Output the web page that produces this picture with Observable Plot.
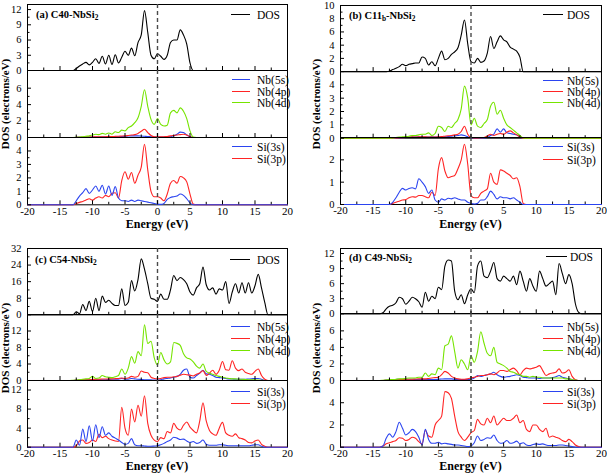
<!DOCTYPE html>
<html><head><meta charset="utf-8">
<script src="https://cdn.jsdelivr.net/npm/d3@7"></script>
<script src="https://cdn.jsdelivr.net/npm/@observablehq/plot@0.6"></script>
<style>
body{margin:0;background:#fff;}
#root{position:relative;width:607px;height:473px;overflow:hidden;background:#fff;font-family:"Liberation Serif","Times New Roman",serif;color:#000;}
.t{position:absolute;white-space:nowrap;line-height:14px;}
.ln{position:absolute;height:0;}
sub{font-size:70%;vertical-align:-2px;line-height:0;}
</style></head><body><div id="root"></div>
<script>
// ---------- energy grids (eV) ----------
const gridAB = [-20,
 -14,-13.5,-13,-12.5,-12,-11.5,-11,-10.5,-10,-9.5,
 -9,-8.5,-8,-7.5,-7,-6.5,-6,-5.5,-5,-4.5,
 -4,-3.5,-3,-2.5,-2,-1.5,-1,-0.5,0,0.5,
 1,1.5,2,2.5,3,3.5,4,4.5,5,5.5,
 6,6.5,7,7.5,8,8.5,9,
 20];
const gridCD = [-20,
 -14,-13.5,-13,-12.5,-12,-11.5,-11,-10.5,-10,-9.5,
 -9,-8.5,-8,-7.5,-7,-6.5,-6,-5.5,-5,-4.5,
 -4,-3.5,-3,-2.5,-2,-1.5,-1,-0.5,0,0.5,
 1,1.5,2,2.5,3,3.5,4,4.5,5,5.5,
 6,6.5,7,7.5,8,8.5,9,9.5,10,10.5,
 11,11.5,12,12.5,13,13.5,14,14.5,15,15.5,
 16,16.5,17,17.5,18,
 20];

// ---------- (a) C40-NbSi2 ----------
const aDOS = [0,
 0,0,0,0.4,0.9,1.3,1.6,1.1,1.6,2.3,
 1.4,2.8,1.3,3.0,1.2,3.1,1.5,2.6,3.8,3.0,
 4.4,2.9,5.5,7.0,11.8,7.5,3.0,2.3,3.3,2.8,
 2.2,3.0,5.5,6.0,6.0,8.0,7.0,5.2,1.5,0,
 0,0,0,0,0,0,0,
 0];
const aNb5s = [0,
 0,0,0,0.01,0.02,0.03,0.04,0.05,0.05,0.06,
 0.07,0.08,0.08,0.09,0.1,0.1,0.1,0.12,0.15,0.18,
 0.2,0.2,0.2,0.18,0.15,0.12,0.1,0.06,0.05,0.05,
 0.05,0.08,0.1,0.2,0.4,0.65,0.6,0.3,0.1,0,
 0,0,0,0,0,0,0,
 0];
const aNb4p = [0,
 0,0,0,0.01,0.02,0.03,0.05,0.06,0.08,0.09,
 0.1,0.1,0.1,0.12,0.12,0.14,0.15,0.18,0.2,0.25,
 0.3,0.35,0.5,0.75,1.0,0.6,0.25,0.1,0.1,0.08,
 0.1,0.12,0.2,0.25,0.3,0.35,0.4,0.3,0.1,0,
 0,0,0,0,0,0,0,
 0];
const aNb4d = [0,
 0,0,0,0.02,0.05,0.1,0.15,0.2,0.3,0.4,
 0.35,0.5,0.4,0.55,0.4,0.7,0.6,0.9,0.8,1.2,
 1.4,1.8,2.4,3.8,5.8,3.8,2.2,1.6,2.3,1.6,
 1.4,1.5,3.0,3.3,3.0,3.6,3.2,2.3,0.8,0.05,
 0,0,0,0,0,0,0,
 0];
const aSi3s = [0,
 0,0,0,0.3,0.65,0.9,1.2,0.85,1.1,1.4,
 1.0,1.45,0.8,1.4,0.7,1.35,0.5,0.3,0.3,0.25,
 0.35,0.25,0.35,0.3,0.25,0.2,0.15,0.1,0.05,0.03,
 0.1,0.4,0.55,0.6,0.65,0.8,0.7,0.45,0.15,0,
 0,0,0,0,0,0,0,
 0];
const aSi3p = [0,
 0,0,0,0.08,0.18,0.25,0.35,0.45,0.35,0.5,
 0.6,0.5,0.7,0.6,0.85,0.9,0.5,1.8,2.45,1.9,
 2.4,1.6,2.2,2.8,4.5,2.6,1.0,0.6,0.6,0.5,
 0.3,0.8,1.6,1.8,1.6,2.1,2.0,1.7,0.8,0.05,
 0,0,0,0,0,0,0,
 0];

// ---------- (b) C11b-NbSi2 ----------
const bDOS = [0,
 0,0,0,0.05,0.3,0.5,0.75,1.1,0.9,1.1,
 1.2,1.3,1.3,2.2,2.0,1.0,1.5,0.9,2.0,3.1,
 1.8,2.0,2.6,3.0,3.6,5.5,7.8,4.2,1.5,1.3,
 2.0,1.4,1.6,2.8,5.3,3.5,4.5,5.4,4.8,4.5,
 3.7,3.4,3.1,2.2,0,0,0,
 0];
const bNb5s = [0,
 0,0,0,0,0.01,0.02,0.03,0.04,0.05,0.06,
 0.08,0.09,0.1,0.09,0.08,0.09,0.1,0.09,0.08,0.09,
 0.1,0.12,0.15,0.18,0.2,0.25,0.2,0.1,0.02,0.01,
 0.01,0.01,0.02,0.05,0.2,0.3,0.7,0.45,0.7,0.4,
 0.35,0.3,0.25,0.1,0,0,0,
 0];
const bNb4p = [0,
 0,0,0,0,0.01,0.02,0.03,0.04,0.05,0.07,
 0.1,0.08,0.1,0.1,0.1,0.09,0.08,0.09,0.1,0.12,
 0.15,0.18,0.2,0.25,0.3,0.5,0.9,0.3,0.05,0.02,
 0.02,0.03,0.05,0.15,0.3,0.2,0.3,0.35,0.3,0.45,
 0.55,0.4,0.25,0.1,0,0,0,
 0];
const bNb4d = [0,
 0,0,0,0,0.02,0.05,0.08,0.1,0.12,0.15,
 0.2,0.2,0.25,0.3,0.3,0.4,0.2,0.35,0.9,0.8,
 0.5,0.9,0.8,1.1,1.4,2.2,3.9,3.0,1.0,1.5,
 0.9,0.8,1.1,1.4,2.4,2.7,1.8,2.1,1.5,1.0,
 0.8,0.6,0.4,0.2,0.02,0,0,
 0];
const bSi3s = [0,
 0,0,0,0,0.1,0.3,0.55,0.72,0.65,0.72,
 0.75,0.7,1.15,1.0,0.8,0.5,0.65,0.2,0.1,0.25,
 0.2,0.28,0.25,0.3,0.25,0.2,0.2,0.1,0.05,0.02,
 0.05,0.2,0.2,0.35,0.6,0.45,0.25,0.35,0.3,0.3,
 0.25,0.3,0.2,0.1,0,0,0,
 0];
const bSi3p = [0,
 0,0,0,0,0.05,0.1,0.15,0.2,0.22,0.3,
 0.35,0.33,0.4,0.4,0.35,0.3,0.55,0.4,1.6,2.1,
 1.5,1.2,1.25,1.3,1.6,2.0,2.7,1.8,0.4,0.3,
 0.3,0.5,0.6,0.7,1.4,1.0,0.9,1.55,1.5,1.4,
 1.3,1.15,1.2,0.8,0.05,0,0,
 0];

// ---------- (c) C54-NbSi2 ----------
const cDOS = [0,
 0,0,0,1.5,0.5,5.0,2.0,6.5,1.5,8.0,
 2.0,9.0,6.0,7.0,5.5,4.5,4.5,12.5,4.5,6.0,
 16.5,11.5,17,27,22,15,8,7.5,6.5,10,
 7.5,7.5,12,19,16.5,18,17,15,11,9.5,
 13,15,23,14.5,12,13,10,12.5,12,16,
 5.5,11,15,10.5,15.5,10.5,15.5,10.5,14,19.5,
 13,6,0,0,0,
 0];
const cNb5s = [0,
 0,0,0,0.05,0.1,0.12,0.15,0.18,0.2,0.2,
 0.2,0.2,0.2,0.25,0.3,0.3,0.3,0.5,0.3,0.3,
 0.5,0.4,0.3,0.25,0.2,0.2,0.15,0.1,0.1,0.2,
 0.4,0.5,0.6,0.8,1.0,1.5,2.5,2.8,0.8,0.6,
 1.2,1.8,2.5,1.6,1.5,1.2,0.8,0.7,0.6,0.5,
 0.4,0.35,0.3,0.3,0.3,0.3,0.35,0.4,0.5,0.5,
 0.3,0,0,0,0,
 0];
const cNb4p = [0,
 0,0,0,0.05,0.1,0.15,0.2,0.2,0.25,0.3,
 0.3,0.35,0.35,0.4,0.4,0.45,0.5,0.6,0.5,0.6,
 1.0,0.8,1.0,2.3,2.0,1.9,0.8,0.5,0.4,0.5,
 0.7,0.8,0.8,0.9,1.0,1.3,1.5,1.4,1.3,1.1,
 1.5,1.8,2.4,1.2,1.8,2.5,1.5,2.5,4.6,2.6,
 2.5,4.8,3.0,2.4,2.8,2.0,1.7,1.5,2.2,2.8,
 1.2,0.3,0,0,0,
 0];
const cNb4d = [0,
 0,0,0.05,0.1,0.2,0.3,0.4,0.5,1.0,0.5,
 0.6,1.2,0.9,0.8,0.7,0.9,1.2,2.8,1.5,3.0,
 5.8,4.2,7.0,6.0,13.5,9.0,9.5,5.5,3.8,6.8,
 5.0,4.0,4.5,9.2,9.0,8.5,6.5,5.5,5.2,4.5,
 3.5,3.0,4.0,2.2,1.8,1.5,1.2,1.0,0.8,0.6,
 0.5,0.4,0.4,0.3,0.3,0.25,0.2,0.2,0.15,0.1,
 0.05,0,0,0,0,
 0];
const cSi3s = [0,
 0,0,0,1.5,0.4,3.8,1.2,4.5,1.3,4.7,
 2.0,4.3,2.5,3.0,2.3,1.9,1.5,1.0,0.6,0.8,
 1.8,0.5,0.3,0.3,0.25,0.2,0.2,0.25,0.3,0.5,
 0.8,1.2,1.5,2.1,1.9,1.6,1.7,1.3,1.0,1.2,
 0.8,1.0,1.5,0.6,0.4,0.4,0.4,0.5,0.5,0.4,
 0.3,0.3,0.3,0.3,0.3,0.3,0.3,0.4,0.5,0.5,
 0.2,0,0,0,0,
 0];
const cSi3p = [0,
 0,0,0,0.3,1.3,1.5,0.8,1.0,1.5,1.2,
 2.7,2.0,2.3,1.8,1.5,1.3,1.2,8.4,4.0,2.5,
 8.0,5.3,8.8,6.5,10.8,5.0,2.5,1.5,1.2,2.0,
 1.8,3.3,3.0,5.0,4.0,3.6,4.6,5.3,4.2,3.5,
 3.0,5.5,9.3,5.5,3.5,2.8,2.5,4.0,5.2,3.0,
 2.5,2.3,2.8,2.0,1.8,1.5,1.0,0.9,1.3,1.5,
 0.6,0.2,0,0,0,
 0];

// ---------- (d) C49-NbSi2 ----------
const dDOS = [0,
 0,0.2,1.0,1.5,1.7,2.2,3.3,3.0,1.9,2.5,
 3.3,3.0,2.4,1.3,4.3,2.5,3.5,3.0,5.3,4.8,
 9.5,10.7,10.5,4.5,2.8,3.8,2.0,3.8,5.0,4.2,
 9.5,10.5,7.5,7.2,8.5,10.2,7.0,6.5,7.5,7.0,
 6.5,7.5,5.8,8.5,6.5,4.5,7.0,5.5,4.5,8.5,
 7.0,5.5,6.0,6.5,3.8,10.0,8.0,6.0,7.8,6.0,
 2.0,0.3,0,0,0,
 0];
const dNb5s = [0,
 0,0,0.05,0.08,0.1,0.12,0.15,0.15,0.15,0.15,
 0.15,0.12,0.1,0.1,0.1,0.1,0.1,0.12,0.15,0.18,
 0.2,0.2,0.2,0.15,0.1,0.1,0.1,0.1,0.15,0.3,
 0.6,0.5,0.6,0.7,0.8,1.0,0.7,0.5,0.4,0.45,
 0.5,0.6,0.7,0.6,0.4,0.35,0.3,0.3,0.3,0.25,
 0.3,0.3,0.3,0.35,0.45,0.6,0.4,0.3,0.2,0.1,
 0.05,0,0,0,0,
 0];
const dNb4p = [0,
 0,0,0.02,0.03,0.05,0.08,0.1,0.12,0.15,0.15,
 0.15,0.18,0.2,0.2,0.2,0.25,0.3,0.35,0.4,0.7,
 1.1,0.9,0.5,0.3,0.2,0.15,0.15,0.2,0.3,0.4,
 0.5,0.6,0.6,0.7,0.8,0.7,0.9,1.2,1.2,1.1,
 1.3,1.5,1.2,0.7,1.2,1.5,1.4,1.5,1.6,1.8,
 1.2,0.6,0.8,0.9,1.0,1.4,0.9,1.0,1.3,0.5,
 0.1,0,0,0,0,
 0];
const dNb4d = [0,
 0,0.02,0.05,0.1,0.1,0.15,0.2,0.2,0.25,0.3,
 0.3,0.3,0.4,0.4,0.9,0.5,0.8,0.7,1.5,1.3,
 4.2,4.4,5.4,3.5,1.5,2.5,2.0,1.3,3.0,2.2,
 3.5,5.9,4.5,3.3,3.0,4.0,2.2,2.0,1.8,1.5,
 1.1,1.0,0.8,0.7,0.5,0.5,0.4,0.5,0.4,0.4,
 0.3,0.3,0.3,0.3,0.3,0.3,0.3,0.2,0.2,0.1,
 0.05,0,0,0,0,
 0];
const dSi3s = [0,
 0,0.1,0.8,1.2,0.9,1.4,2.25,1.7,1.1,1.3,
 1.6,1.4,0.9,0.2,1.6,0.7,0.35,0.35,0.45,0.3,
 0.35,0.3,0.25,0.2,0.2,0.15,0.1,0.05,0.1,0.4,
 1.0,0.6,0.7,0.85,0.8,1.1,0.6,0.35,0.4,0.6,
 0.35,0.4,0.55,0.3,0.4,0.2,0.15,0.25,0.3,0.25,
 0.3,0.2,0.15,0.15,0.15,0.2,0.2,0.15,0.1,0.05,
 0,0,0,0,0,
 0];
const dSi3p = [0,
 0,0.1,0.3,0.4,0.5,0.6,0.85,0.8,0.6,0.7,
 0.9,0.8,0.5,0.3,1.5,1.0,0.9,2.0,2.4,2.8,
 5.0,4.9,4.4,2.8,1.4,0.9,0.6,0.9,1.3,1.5,
 2.5,2.1,2.0,2.6,2.2,2.8,2.0,2.3,2.6,2.4,
 2.4,2.6,2.9,2.2,2.4,1.6,1.4,2.0,2.0,1.6,
 1.4,1.7,0.9,1.0,0.9,0.8,0.6,0.5,0.7,0.5,
 0.2,0.05,0,0,0,
 0];

// ---------- ticks ----------
const xMajor = [-20,-15,-10,-5,0,5,10,15,20];
const xMinor = [-17.5,-12.5,-7.5,-2.5,2.5,7.5,12.5,17.5];
const aY = [[0,3,6,9,12],[0,2,4,6],[0,1,2,3,4]];
const bY = [[0,2,4,6,8,10],[0,1,2,3,4],[0,1,2]];
const cY = [[0,8,16,24,32],[0,4,8,12],[0,4,8,12]];
const dY = [[0,3,6,9,12],[0,2,4,6],[0,2,4]];

const BLACK = "#000", BLUE = "#2b44f0", RED = "#ff2424", GREEN = "#76e400";
const root = document.getElementById("root");

function mid(t){ const m=[]; for(let i=0;i<t.length-1;i++) m.push((t[i]+t[i+1])/2); return m; }

function subplot(grid, left, right, top, bottom, domain, ticks, series, isBottom){
  const mL = 30, mR = 4, mT = 4, mB = isBottom ? 22 : 4;
  const w = right - left, h = bottom - top;
  const marks = [Plot.frame({stroke: "#000", strokeWidth: 1})];
  for (const s of series) {
    const pts = grid.map((e, i) => ({E: e, v: s.v[i]}));
    marks.push(Plot.line(pts, {x: "E", y: "v", stroke: s.c, strokeWidth: 1.1, curve: "monotone-x"}));
  }
  marks.push(
    Plot.ruleX([0], {stroke: "#4a4a4a", strokeWidth: 1.4, strokeDasharray: "4,3"}),
    Plot.tickX(xMajor, {x: d => d, stroke: "#000", insetTop: h - 4}),
    Plot.tickX(xMinor, {x: d => d, stroke: "#000", insetTop: h - 2.5}),
    Plot.tickY(ticks, {y: d => d, stroke: "#000", insetRight: w - 4}),
    Plot.tickY(mid(ticks), {y: d => d, stroke: "#000", insetRight: w - 2.5}),
    Plot.axisY({ticks: ticks, tickSize: 0, tickPadding: 6, label: null, fontSize: 10.5, tickFormat: d => String(d)})
  );
  if (isBottom) marks.push(Plot.axisX({ticks: xMajor, tickSize: 0, tickPadding: 2, label: null, tickFormat: d => String(d)}));
  const svg = Plot.plot({
    width: w + mL + mR, height: h + mT + mB,
    marginLeft: mL, marginRight: mR, marginTop: mT, marginBottom: mB,
    x: isBottom ? {domain: [-20, 20]} : {domain: [-20, 20], axis: null},
    y: {domain: domain},
    style: {fontFamily: "Liberation Serif", fontSize: "11px", background: "transparent", overflow: "visible", color: "#000"},
    marks
  });
  svg.style.position = "absolute";
  svg.style.left = (left - mL) + "px";
  svg.style.top = (top - mT) + "px";
  root.appendChild(svg);
}

function text(html, x, y, css){
  const d = document.createElement("div");
  d.className = "t"; d.innerHTML = html;
  d.style.left = x + "px"; d.style.top = (y - 7) + "px";
  if (css) Object.assign(d.style, css);
  root.appendChild(d);
  return d;
}
function legend(x1, x2, y, tx, label, color){
  const l = document.createElement("div");
  l.className = "ln";
  l.style.left = x1 + "px"; l.style.top = (y - 0.75) + "px"; l.style.width = (x2 - x1) + "px";
  l.style.borderTop = "1.5px solid " + color;
  root.appendChild(l);
  text(label, tx, y, {fontSize: "11.5px"});
}

const panels = [
  {grid: gridAB, left: 27, right: 287, ylx: 4.5, ys: [4, 70, 137, 204.3], doms: [[0,13],[0,8.15],[0,5]], ticks: aY,
   s: [[{v:aDOS,c:BLACK}], [{v:aNb5s,c:BLUE},{v:aNb4p,c:RED},{v:aNb4d,c:GREEN}], [{v:aSi3p,c:RED},{v:aSi3s,c:BLUE}]]},
  {grid: gridAB, left: 340, right: 601, ylx: 315.5, ys: [4.5, 70.6, 137.3, 204.3], doms: [[0,10],[0,5],[0,3]], ticks: bY,
   s: [[{v:bDOS,c:BLACK}], [{v:bNb5s,c:BLUE},{v:bNb4p,c:RED},{v:bNb4d,c:GREEN}], [{v:bSi3p,c:RED},{v:bSi3s,c:BLUE}]]},
  {grid: gridCD, left: 27, right: 287, ylx: 4.5, ys: [248, 314.3, 380.3, 447], doms: [[0,32],[0,16],[0,14]], ticks: cY,
   s: [[{v:cDOS,c:BLACK}], [{v:cNb5s,c:BLUE},{v:cNb4p,c:RED},{v:cNb4d,c:GREEN}], [{v:cSi3p,c:RED},{v:cSi3s,c:BLUE}]]},
  {grid: gridCD, left: 340, right: 601, ylx: 315.5, ys: [248, 313.3, 380.3, 447], doms: [[0,13],[0,8.1],[0,6]], ticks: dY,
   s: [[{v:dDOS,c:BLACK}], [{v:dNb5s,c:BLUE},{v:dNb4p,c:RED},{v:dNb4d,c:GREEN}], [{v:dSi3p,c:RED},{v:dSi3s,c:BLUE}]]}
];

for (const p of panels) {
  for (let k = 0; k < 3; k++) {
    subplot(p.grid, p.left, p.right, p.ys[k], p.ys[k+1], p.doms[k], p.ticks[k], p.s[k], k === 2);
  }
  const cx = (p.left + p.right) / 2;
  text("Energy (eV)", cx, p.ys[3] + 20.3, {fontWeight: "bold", fontSize: "12px", lineHeight: "12px", transform: "translateX(-50%)"});
  text("DOS (electrons/eV)", p.ylx, (p.ys[0] + p.ys[3]) / 2 + 7,
    {fontWeight: "bold", fontSize: "11px", lineHeight: "10px", transform: "translate(-50%,-50%) rotate(-90deg)"});
}

// titles
text("(a) C40-NbSi<sub>2</sub>", 36, 15, {fontWeight: "bold", fontSize: "10.5px"});
text("(b) C11<sub>b</sub>-NbSi<sub>2</sub>", 349, 16, {fontWeight: "bold", fontSize: "10.5px"});
text("(c) C54-NbSi<sub>2</sub>", 35, 260, {fontWeight: "bold", fontSize: "10.5px"});
text("(d) C49-NbSi<sub>2</sub>", 349, 258, {fontWeight: "bold", fontSize: "10.5px"});

// legends
legend(231, 250, 15, 257, "DOS", BLACK);
legend(232, 250, 80, 257, "Nb(5s)", BLUE);
legend(232, 250, 91.5, 257, "Nb(4p)", RED);
legend(232, 250, 103, 257, "Nb(4d)", GREEN);
legend(232, 252, 147, 257, "Si(3s)", BLUE);
legend(232, 252, 159, 257, "Si(3p)", RED);

legend(543, 563, 15, 567, "DOS", BLACK);
legend(543, 563, 81, 567, "Nb(5s)", BLUE);
legend(543, 563, 92, 567, "Nb(4p)", RED);
legend(543, 563, 103, 567, "Nb(4d)", GREEN);
legend(543, 563, 147, 567, "Si(3s)", BLUE);
legend(543, 563, 160, 567, "Si(3p)", RED);

legend(230, 250, 260, 257, "DOS", BLACK);
legend(231, 250, 327, 257, "Nb(5s)", BLUE);
legend(231, 250, 339, 257, "Nb(4p)", RED);
legend(231, 250, 351, 257, "Nb(4d)", GREEN);
legend(231, 250, 392, 257, "Si(3s)", BLUE);
legend(231, 250, 404, 257, "Si(3p)", RED);

legend(546, 567, 257, 570, "DOS", BLACK);
legend(543, 563, 327, 567, "Nb(5s)", BLUE);
legend(543, 563, 339, 567, "Nb(4p)", RED);
legend(543, 563, 351, 567, "Nb(4d)", GREEN);
legend(543, 563, 392, 567, "Si(3s)", BLUE);
legend(543, 563, 404, 567, "Si(3p)", RED);
</script></body></html>
